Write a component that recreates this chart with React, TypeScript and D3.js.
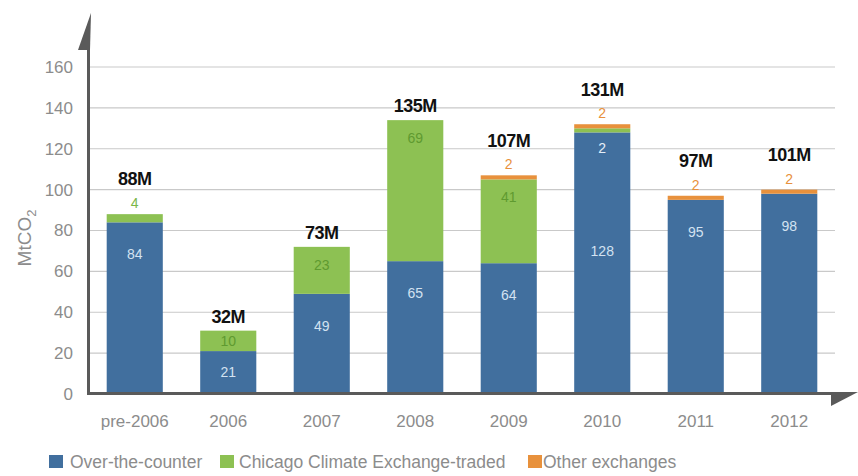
import React from "react";
import * as d3 from "d3";

const categories = ["pre-2006", "2006", "2007", "2008", "2009", "2010", "2011", "2012"];
const otcValues = [84, 21, 49, 65, 64, 128, 95, 98];
const ccxValues = [4, 10, 23, 69, 41, 2, 0, 0];
const otherValues = [0, 0, 0, 0, 2, 2, 2, 2];
const totalLabels = ["88M", "32M", "73M", "135M", "107M", "131M", "97M", "101M"];
const yTicks = [0, 20, 40, 60, 80, 100, 120, 140, 160];
const seriesNames = ["Over-the-counter", "Chicago Climate Exchange-traded", "Other exchanges"];

const W = 858;
const H = 476;
const COLORS = ["#416f9e", "#8dc153", "#e8913c"];
const INNER_LABEL = ["#d3e2f1", "#5f9a30", "#e8913c"];
const ABOVE_LABEL = ["#416f9e", "#7ab648", "#e8913c"];
const FONT = "'Liberation Sans', Arial, Helvetica, sans-serif";

export default function App() {
  const x = d3.scaleBand<string>().domain(categories).range([88, 836]).paddingInner(0.4).paddingOuter(0.2);
  const y = d3.scaleLinear().domain([0, 160]).range([394, 67]);

  const series = [otcValues, ccxValues, otherValues];
  const rows = categories.map((c, i) => {
    const o: any = { cat: c };
    seriesNames.forEach((s, k) => (o[s] = series[k][i]));
    return o;
  });
  const stacked = d3.stack<any>().keys(seriesNames)(rows);

  const bars: React.ReactNode[] = [];
  const labels: React.ReactNode[] = [];

  categories.forEach((cat, i) => {
    const x0 = x(cat)!;
    const bw = x.bandwidth();
    const cx = x0 + bw / 2;
    let topIdx = -1;
    stacked.forEach((s, k) => {
      if (s[i][1] - s[i][0] > 0) topIdx = k;
    });
    const barTop = y(stacked[topIdx][i][1]);
    stacked.forEach((s, k) => {
      const v = series[k][i];
      if (v <= 0) return;
      const yTop = y(s[i][1]);
      const yBot = y(s[i][0]);
      const h = yBot - yTop;
      bars.push(
        <rect key={`b${i}-${k}`} x={x0} y={yTop} width={bw} height={h} fill={COLORS[k]} />
      );
      let ly: number;
      let fill: string;
      if (v < 5 && k === topIdx) {
        ly = yTop - 11;
        fill = ABOVE_LABEL[k];
      } else if (v < 5) {
        ly = yBot + 16;
        fill = "#e4eef8";
      } else {
        const nextSmall = k + 1 < stacked.length && series[k + 1][i] > 0 && series[k + 1][i] < 5 && k + 1 !== topIdx;
        if (nextSmall) ly = yTop + h / 2 - 12;
        else if (k === 0) ly = yTop + Math.min(32, h / 2);
        else ly = yTop + Math.min(18, h / 2);
        fill = INNER_LABEL[k];
      }
      labels.push(
        <text key={`l${i}-${k}`} x={cx} y={ly} dy="0.35em" textAnchor="middle" fontSize={14} fill={fill} fontFamily={FONT}>
          {v}
        </text>
      );
    });
    const topSmall = series[topIdx][i] < 5;
    labels.push(
      <text key={`t${i}`} x={cx} y={barTop - (topSmall ? 35 : 14)} dy="0.35em" textAnchor="middle" fontSize={18} fontWeight="bold" fill="#111" fontFamily={FONT} letterSpacing={-0.5}>
        {totalLabels[i]}
      </text>
    );
  });

  const legendX = [[49, 70], [220, 239], [528, 543]];

  return (
    <svg width={W} height={H} style={{ position: "absolute", left: 0, top: 0, background: "#fff" }} fontFamily={FONT}>
      {yTicks.filter((t) => t > 0).map((t) => (
        <line key={`g${t}`} x1={90} x2={835} y1={y(t)} y2={y(t)} stroke="#c9c9c9" strokeWidth={1.2} />
      ))}
      {yTicks.map((t) => (
        <text key={`yt${t}`} x={73} y={y(t)} dy="0.35em" textAnchor="end" fontSize={17} fill="#8c8c8c">
          {t}
        </text>
      ))}
      {bars}
      <line x1={88.5} x2={88.5} y1={40} y2={395} stroke="#5a5a5a" strokeWidth={3} />
      <path d="M78,50 L91,13 L90,50 Z" fill="#5a5a5a" />
      <line x1={87} x2={834} y1={393.5} y2={393.5} stroke="#5a5a5a" strokeWidth={3} />
      <path d="M831,392 L858,392 L831,406 Z" fill="#5a5a5a" />
      {categories.map((c) => (
        <text key={`xt${c}`} x={x(c)! + x.bandwidth() / 2} y={421} dy="0.35em" textAnchor="middle" fontSize={17} fill="#8c8c8c">
          {c}
        </text>
      ))}
      {labels}
      <text transform="translate(24,238) rotate(-90)" textAnchor="middle" dy="0.35em" fontSize={19} fill="#8c8c8c">
        MtCO<tspan fontSize={13} dy="5">2</tspan>
      </text>
      {seriesNames.map((s, k) => (
        <g key={`lg${k}`}>
          <rect x={legendX[k][0]} y={455} width={14} height={13} fill={COLORS[k]} />
          <text x={legendX[k][1]} y={462} dy="0.35em" fontSize={17.5} fill="#8c8c8c">
            {s}
          </text>
        </g>
      ))}
    </svg>
  );
}
